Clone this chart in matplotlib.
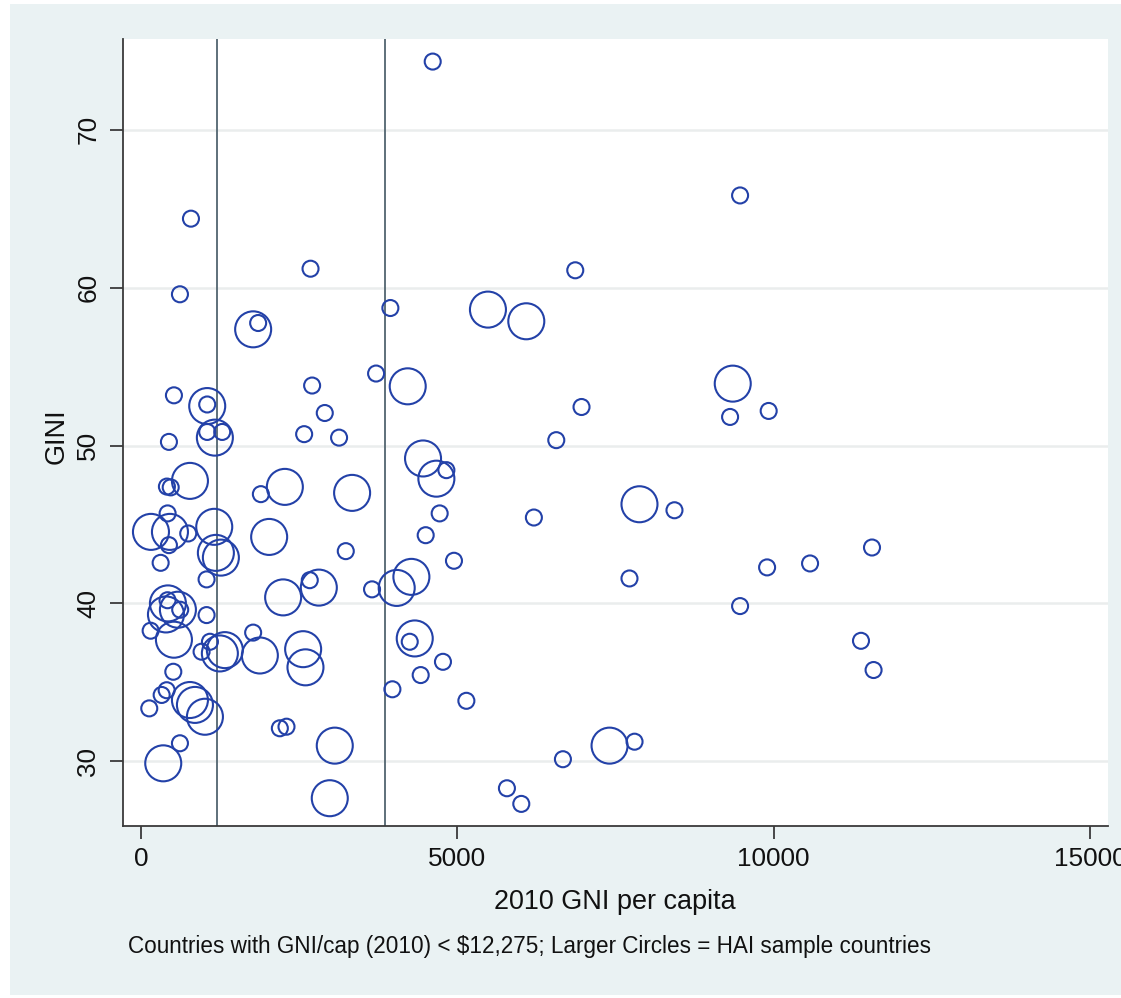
import matplotlib
matplotlib.use('Agg')
import matplotlib.pyplot as plt
from matplotlib.patches import Rectangle
from matplotlib import font_manager

# ---- data ----
small_x = [4611, 9469, 790, 2680, 6864, 616, 3942, 1852, 3716, 2705, 521, 1047, 1047, 1284,
           442, 2905, 2579, 3131, 6963, 6564, 4827, 410, 470, 1895, 421, 442, 747, 311,
           1037, 3237, 2668, 3652, 4721, 4500, 4947, 6210, 8432, 7721, 9311, 9921, 9896,
           10575, 11554, 9469, 11380, 11579, 153, 1037, 1773, 958, 1090, 511, 327, 406,
           131, 616, 2195, 2300, 4248, 4773, 4421, 3974, 5143, 6669, 7801, 5784, 6011,
           420, 620]
small_y = [74.32, 65.84, 64.37, 61.2, 61.1, 59.58, 58.71, 57.76, 54.56, 53.8, 53.18, 52.6, 50.86, 50.86,
           50.23, 52.06, 50.72, 50.5, 52.44, 50.34, 48.44, 47.4, 47.35, 46.92, 45.7, 43.69, 44.43, 42.57,
           41.52, 43.31, 41.47, 40.89, 45.7, 44.32, 42.7, 45.44, 45.9, 41.58, 51.81, 52.19, 42.28,
           42.53, 43.54, 39.83, 37.63, 35.78, 38.27, 39.26, 38.15, 36.94, 37.57, 35.67, 34.2, 34.5,
           33.35, 31.14, 32.09, 32.19, 37.57, 36.3, 35.46, 34.56, 33.83, 30.13, 31.24, 28.29, 27.3,
           40.2, 39.6]
large_x = [1773, 4216, 1047, 1168, 774, 2274, 3337, 158, 458, 1158, 1184, 1263, 2026, 2811,
           2247, 4042, 4274, 5484, 6090, 4458, 4669, 7879, 521, 1247, 1326, 1879, 2563, 2600,
           4327, 774, 853, 1011, 352, 3063, 2984, 7406, 9353, 426, 584, 395]
large_y = [57.36, 53.75, 52.5, 50.5, 47.76, 47.38, 47.0, 44.53, 44.53, 44.85, 43.2, 42.9, 44.21, 41.0,
           40.38, 40.98, 41.68, 58.61, 57.87, 49.18, 47.9, 46.28, 37.7, 36.83, 37.04, 36.7, 37.1, 35.95,
           37.78, 33.88, 33.57, 32.82, 29.87, 30.99, 27.66, 30.99, 53.92, 40.0, 39.6, 39.3]
income_thresholds = [1200, 3855]
x_ticks = [0, 5000, 10000, 15000]
y_ticks = [30, 40, 50, 60, 70]
x_title = "2010 GNI per capita"
y_title = "GINI"
note = "Countries with GNI/cap (2010) < $12,275; Larger Circles = HAI sample countries"

# ---- font: prefer a narrow Helvetica-like face if present ----
names = {f.name for f in font_manager.fontManager.ttflist}
fam = 'Liberation Sans Narrow' if 'Liberation Sans Narrow' in names else 'Liberation Sans'

# ---- figure ----
W, H = 1121, 998
plt.rcParams['font.family'] = [fam, 'DejaVu Sans']
fig = plt.figure(figsize=(W / 100, H / 100), dpi=100, facecolor='white')
bg = Rectangle((10 / W, 1 - 995 / H), (W - 10) / W, (995 - 4) / H,
               transform=fig.transFigure, facecolor='#eaf2f3', edgecolor='none', zorder=-10)
fig.patches.append(bg)
ax = fig.add_axes([123 / W, 1 - 826 / H, (1108 - 123) / W, (826 - 39) / H])
ax.set_zorder(1)
ax.set_facecolor('white')
ax.set_xlim(-284, 15284)
ax.set_ylim(25.9, 75.75)

circ_col = '#2341a8'
ax.scatter(small_x, small_y, s=(16 * 0.72) ** 2, facecolors='none', edgecolors=circ_col,
           linewidths=1.5, zorder=3)
ax.scatter(large_x, large_y, s=(36 * 0.72) ** 2, facecolors='none', edgecolors=circ_col,
           linewidths=1.5, zorder=3)
for t in income_thresholds:
    ax.axvline(t, color='#52656f', lw=1.3, zorder=2)

ax.set_axisbelow(True)
ax.yaxis.grid(True, color='#eaeded', lw=1.8)
ax.xaxis.grid(False)
for side in ['top', 'right']:
    ax.spines[side].set_visible(False)
for side in ['left', 'bottom']:
    ax.spines[side].set_color('#3a3a3a')
    ax.spines[side].set_linewidth(1.3)

ax.set_xticks(x_ticks)
ax.set_xticklabels([str(v) for v in x_ticks])
ax.set_yticks(y_ticks)
ax.set_yticklabels([str(v) for v in y_ticks], rotation=90, va='center')
ax.tick_params(axis='both', direction='out', length=9.4, width=1.3, color='#3a3a3a',
               labelsize=19, labelcolor='#111111')
ax.tick_params(axis='x', pad=6)
ax.tick_params(axis='y', pad=7)

fig.canvas.draw()
r = fig.canvas.get_renderer()

def fit(txt, target_px):
    w = txt.get_window_extent(r).width
    txt.set_fontsize(txt.get_fontsize() * target_px / w)

# x tick labels: "5000" about 58 px wide
lab5000 = ax.get_xticklabels()[1]
scale = 58 / lab5000.get_window_extent(r).width
ax.tick_params(axis='both', labelsize=19 * scale)

xt = fig.text(615 / W, 1 - 902 / H, x_title, ha='center', va='center', fontsize=19, color='#111111')
fit(xt, 242)
yt = fig.text(57 / W, 1 - 436 / H, y_title, ha='center', va='center', rotation=90,
              fontsize=xt.get_fontsize(), color='#111111')
nt = fig.text(128 / W, 1 - 946 / H, note, ha='left', va='center', fontsize=14, color='#111111')
fit(nt, 809)

fig.savefig('out.png', dpi=100, facecolor='white')
